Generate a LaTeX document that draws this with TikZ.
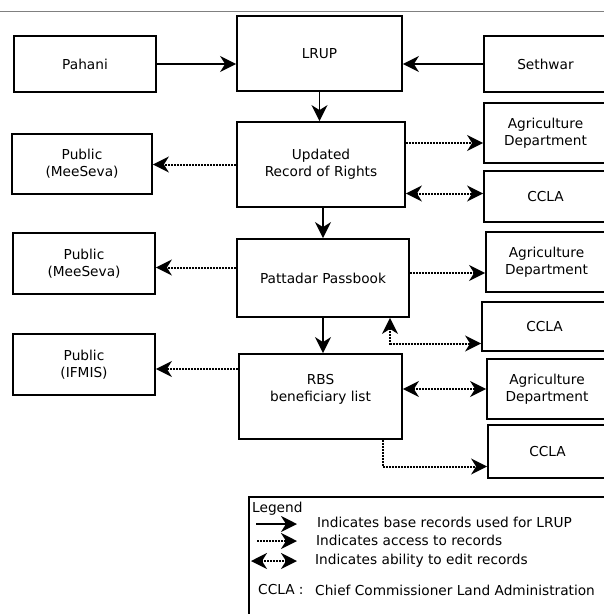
\documentclass[tikz,border=0pt]{standalone}
\usepackage{fontspec}
\setmainfont{DejaVu Sans}
\usetikzlibrary{arrows.meta}

\begin{document}
\begin{tikzpicture}[x=1pt, y=-1pt,
        box/.style={draw, line width=1.8pt, align=center, inner sep=0pt, font=\fontsize{13.7}{17}\selectfont},
        base/.style={line width=1.8pt, -{Stealth[length=16pt, width=16pt, inset=5pt]}},
        access/.style={line width=2pt, dash pattern=on 2pt off 1pt, -{Stealth[length=16pt, width=16pt, inset=5pt]}},
        edit/.style={access, {Stealth[length=16pt, width=16pt, inset=5pt]}-{Stealth[length=16pt, width=16pt, inset=5pt]}},
        legtext/.style={anchor=west, inner sep=0pt, font=\fontsize{13.7}{17}\selectfont}]
            \path[use as bounding box] (0,0) rectangle (604,614);
            \clip (0,0) rectangle (604,614);

            \draw[gray, line width=1pt] (0,11) -- (604,11);

            \node[box, minimum width=142pt, minimum height=56pt] (PAH)   at (85,64)      {Pahani};
            \node[box, minimum width=165pt, minimum height=75pt] (LRUP)  at (319.5,53.5) {LRUP};
            \node[box, minimum width=123pt, minimum height=56pt] (SETH)  at (545.5,64)   {Sethwar};
            \node[box, minimum width=168pt, minimum height=85pt] (ROR)   at (321,164.5)  {Updated\\Record of Rights};
            \node[box, minimum width=140pt, minimum height=60pt] (PubA)  at (82,164)     {Public\\(MeeSeva)};
            \node[box, minimum width=123pt, minimum height=60pt] (AgriA) at (545.5,133)  {Agriculture\\Department};
            \node[box, minimum width=123pt, minimum height=51pt] (CclaA) at (545.5,196.5) {CCLA};
            \node[box, minimum width=172pt, minimum height=78pt] (PP)    at (323,278)    {Pattadar Passbook};
            \node[box, minimum width=142pt, minimum height=61pt] (PubB)  at (84,263.5)   {Public\\(MeeSeva)};
            \node[box, minimum width=121pt, minimum height=60pt] (AgriB) at (546.5,262)  {Agriculture\\Department};
            \node[box, minimum width=125pt, minimum height=49pt] (CclaB) at (544.5,326.5) {CCLA};
            \node[box, minimum width=163pt, minimum height=85pt] (RBS)   at (320.5,396.5) {RBS\\beneficiary list\\\mbox{}};
            \node[box, minimum width=142pt, minimum height=61pt] (PubC)  at (84,364.5)   {Public\\(IFMIS)};
            \node[box, minimum width=120pt, minimum height=60pt] (AgriC) at (547,389)    {Agriculture\\Department};
            \node[box, minimum width=119pt, minimum height=53pt] (CclaC) at (547.5,451.5) {CCLA};

            % base records
            \draw[base] (PAH.east) -- (PAH.east -| LRUP.west);
            \draw[base] (SETH.west) -- (SETH.west -| LRUP.east);
            \draw[base] (LRUP.south) -- (LRUP.south |- ROR.north);
            \draw[base] (PP.north |- ROR.south) -- (PP.north);
            \draw[base] (PP.south) -- (PP.south |- RBS.north);

            % access and editing
            \draw[access] ([yshift=-10pt]ROR.east |- AgriA.west) -- ([yshift=-10pt]AgriA.west);
            \draw[access] (ROR.west) -- (ROR.west -| PubA.east);
            \draw[edit]   ([yshift=3pt]ROR.east |- CclaA.west) -- ([yshift=3pt]CclaA.west);

            \draw[access] ([yshift=-4pt]PP.west |- PubB.east) -- ([yshift=-4pt]PubB.east);
            \draw[access] ([yshift=-11pt]PP.east |- AgriB.west) -- ([yshift=-11pt]AgriB.west);
            \draw[edit]   ([xshift=67pt]PP.south) |- ([yshift=-17pt]CclaB.west);

            \draw[access] ([yshift=-4.5pt]RBS.west |- PubC.east) -- ([yshift=-4.5pt]PubC.east);
            \draw[edit]   (RBS.east |- AgriC.west) -- (AgriC.west);
            \draw[access] ([xshift=62pt]RBS.south) |- ([yshift=-15pt]CclaC.west);

            % legend
            \node[draw, line width=1.8pt, anchor=north west, minimum width=400pt, minimum height=150pt, inner sep=0pt] (LEG) at (248,496) {};
            \node[legtext] (LegT) at (252,509) {Legend};
            \coordinate (BaseA) at (256,524);
            \coordinate (BaseB) at (297,524);
            \coordinate (AccA)  at (257,541);
            \coordinate (AccB)  at (297,541);
            \coordinate (EditA) at (251,561);
            \coordinate (EditB) at (297,561);
            \draw[base]   (BaseA) -- (BaseB);
            \draw[access] (AccA) -- (AccB);
            \draw[edit]   (EditA) -- (EditB);
            \node[legtext] (BaseT) at (317,522) {Indicates base records used for LRUP};
            \node[legtext] (AccT)  at (316,540) {Indicates access to records};
            \node[legtext] (EditT) at (315,561) {Indicates ability to edit records};
            \node[legtext] (CclaT) at (258,590) {CCLA :};
            \node[legtext] (CclaD) at (315,590) {Chief Commissioner Land Administration};
        \end{tikzpicture}
\end{document}
